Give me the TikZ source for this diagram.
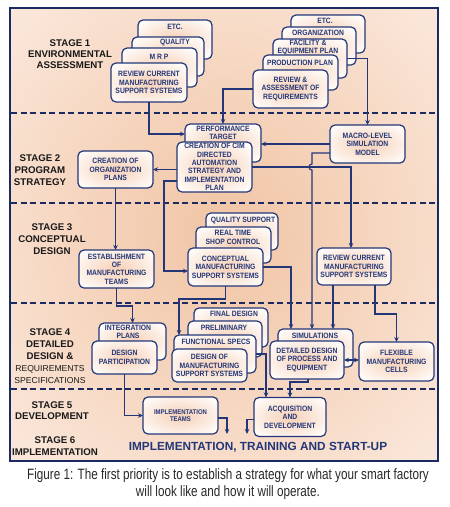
\documentclass[tikz,border=0pt]{standalone}
\usepackage{fontspec}
\setmainfont{Liberation Sans}
\newfontfamily\capfont{Liberation Sans}[FakeStretch=0.78]
\newfontfamily\boxfont{Liberation Sans}[FakeStretch=0.88]
\usetikzlibrary{arrows.meta,calc}
\definecolor{navy}{RGB}{35,55,120}
\definecolor{framec}{RGB}{28,42,98}
\definecolor{bgin}{RGB}{241,196,164}
\definecolor{bgmid}{RGB}{247,218,198}
\definecolor{bgout}{RGB}{253,242,235}
\definecolor{boxin}{RGB}{246,208,182}
\definecolor{boxmid}{RGB}{251,232,219}
\definecolor{labelc}{RGB}{25,25,25}
\definecolor{capc}{RGB}{40,40,40}
\pgfdeclareradialshading{bgshade}{\pgfpoint{0bp}{0bp}}{color(0bp)=(bgin); color(22bp)=(bgmid); color(45bp)=(bgout); color(50bp)=(bgout)}
\pgfdeclareradialshading{boxshade}{\pgfpoint{0bp}{0bp}}{color(0bp)=(boxin); color(18bp)=(boxmid); color(34bp)=(white); color(50bp)=(white)}
\tikzset{
  procbox/.style={draw=navy, line width=1.2pt, rounded corners=5pt, shading=boxshade,
    inner sep=0pt, outer sep=0pt, align=center, text=navy,
    font=\boxfont\bfseries\fontsize{7.7}{8.4}\selectfont},
  btxt/.style={text=navy, font=\boxfont\bfseries\fontsize{7.7}{8.4}\selectfont, align=center, inner sep=0pt},
  stagelbl/.style={text=labelc, font=\bfseries\fontsize{9.7}{12}\selectfont, align=center, inner sep=0pt},
  conn/.style={draw=navy, line width=1.1pt, -{Stealth[length=5pt,width=4.5pt]}},
  plainline/.style={draw=navy, line width=1.1pt},
  stagesep/.style={draw=framec, line width=1.2pt, dash pattern=on 6pt off 3.5pt},
}
\begin{document}
\begin{tikzpicture}[x=1pt,y=-1pt]
\useasboundingbox (0,0) rectangle (450,507);
% frame
\shadedraw[shading=bgshade, draw=framec, line width=1.8pt] (10,8) rectangle (438,461);
\foreach \yy in {113,203,303,389} {\draw[stagesep] (11,\yy) -- (437,\yy);}

% stage labels
\node[stagelbl, font=\bfseries\fontsize{9.7}{11}\selectfont] (st1) at (70,54) {STAGE 1\\ENVIRONMENTAL\\ASSESSMENT};
\node[stagelbl] (st2) at (40,170) {STAGE 2\\PROGRAM\\STRATEGY};
\node[stagelbl] (st3) at (52,239.5) {STAGE 3\\CONCEPTUAL\\DESIGN};
\node[stagelbl] (st4) at (50,356) {STAGE 4\\DETAILED\\DESIGN \&\\{\mdseries\fontsize{8.6}{12}\selectfont REQUIREMENTS}\\{\mdseries\fontsize{8.6}{12}\selectfont SPECIFICATIONS}};
\node[stagelbl, font=\bfseries\fontsize{9.7}{11}\selectfont] (st5) at (52,410.5) {STAGE 5\\DEVELOPMENT};
\node[stagelbl] (st6) at (55,446) {STAGE 6\\IMPLEMENTATION};

% stage 1 left stack
\node[procbox, minimum width=74pt, minimum height=39pt] (s1etc) at (175,39.5) {};
\node[btxt] (s1etc-t) at (175,27) {ETC.};
\node[procbox, minimum width=72pt, minimum height=39pt] (s1qual) at (168,56.5) {};
\node[btxt] (s1qual-t) at (175,43) {QUALITY};
\node[procbox, minimum width=75pt, minimum height=39pt] (s1mrp) at (159.5,67.5) {};
\node[btxt] (s1mrp-t) at (159,57) {M R P};
\node[procbox, minimum width=76pt, minimum height=39pt] (s1rev) at (149,82.5) {REVIEW CURRENT\\MANUFACTURING\\SUPPORT SYSTEMS};

% stage 1 right stack
\node[procbox, minimum width=74pt, minimum height=38pt] (r1etc) at (328,34) {};
\node[btxt] (r1etc-t) at (325,20.5) {ETC.};
\node[procbox, minimum width=74pt, minimum height=38pt] (r1org) at (319,46) {};
\node[btxt] (r1org-t) at (318,33) {ORGANIZATION};
\node[procbox, minimum width=74pt, minimum height=39pt] (r1fac) at (310,58.5) {};
\node[btxt] (r1fac-t) at (308,47.5) {FACILITY \&\\EQUIPMENT PLAN};
\node[procbox, minimum width=75pt, minimum height=35pt] (r1prod) at (300.5,72.5) {};
\node[btxt] (r1prod-t) at (300,63) {PRODUCTION PLAN};
\node[procbox, minimum width=75pt, minimum height=38pt] (r1rev) at (290.5,89) {REVIEW \&\\ASSESSMENT OF\\REQUIREMENTS};

% stage 2
\node[procbox, minimum width=76pt, minimum height=38pt] (perf) at (223,143) {};
\node[btxt] (perf-t) at (223,133) {PERFORMANCE\\TARGET};
\node[procbox, minimum width=75pt, minimum height=50pt] (creation) at (214.5,167) {CREATION OF CIM\\DIRECTED\\AUTOMATION\\STRATEGY AND\\IMPLEMENTATION\\PLAN};
\node[procbox, minimum width=75pt, minimum height=37pt] (org) at (115.5,169.5) {CREATION OF\\ORGANIZATION\\PLANS};
\node[procbox, minimum width=75pt, minimum height=38pt] (macro) at (367.5,144) {MACRO-LEVEL\\SIMULATION\\MODEL};

% stage 3
\node[procbox, minimum width=75pt, minimum height=38pt] (estab) at (116.5,269) {ESTABLISHMENT\\OF\\MANUFACTURING\\TEAMS};
\node[procbox, minimum width=72pt, minimum height=37pt] (qs) at (242,231.5) {};
\node[btxt] (qs-t) at (243,221) {QUALITY SUPPORT};
\node[procbox, minimum width=75pt, minimum height=36pt] (rt) at (233.5,245) {};
\node[btxt] (rt-t) at (233,237.5) {REAL TIME\\SHOP CONTROL};
\node[procbox, minimum width=75pt, minimum height=38pt] (conc) at (225.5,267) {CONCEPTUAL\\MANUFACTURING\\SUPPORT SYSTEMS};
\node[procbox, minimum width=74pt, minimum height=37pt] (rev3) at (354,266.5) {REVIEW CURRENT\\MANUFACTURING\\SUPPORT SYSTEMS};

% stage 4
\node[procbox, minimum width=67pt, minimum height=37pt] (integ) at (132.5,341.5) {};
\node[btxt] (integ-t) at (128,332) {INTEGRATION\\PLANS};
\node[procbox, minimum width=65pt, minimum height=33pt] (dp) at (124.5,357.5) {DESIGN\\PARTICIPATION};
\node[procbox, minimum width=74pt, minimum height=39pt] (fin) at (231,327.5) {};
\node[btxt] (fin-t) at (234,314) {FINAL DESIGN};
\node[procbox, minimum width=74pt, minimum height=36pt] (prel) at (225,339) {};
\node[btxt] (prel-t) at (224,327.5) {PRELIMINARY};
\node[procbox, minimum width=82pt, minimum height=38pt] (func) at (215,354) {};
\node[btxt] (func-t) at (216,342) {FUNCTIONAL SPECS};
\node[procbox, minimum width=75pt, minimum height=33pt] (dms) at (209.5,365.5) {DESIGN OF\\MANUFACTURING\\SUPPORT SYSTEMS};
\node[procbox, minimum width=75pt, minimum height=38pt] (sim) at (315.5,348) {};
\node[btxt] (sim-t) at (315,336) {SIMULATIONS};
\node[procbox, minimum width=74pt, minimum height=38pt] (det) at (307,360) {DETAILED DESIGN\\OF PROCESS AND\\EQUIPMENT};
\node[procbox, minimum width=75pt, minimum height=39pt] (flex) at (396.5,361.5) {FLEXIBLE\\MANUFACTURING\\CELLS};

% stage 5
\node[procbox, minimum width=75pt, minimum height=37pt, font=\boxfont\bfseries\fontsize{6.8}{7.6}\selectfont] (impl) at (180.5,415.5) {IMPLEMENTATION\\TEAMS};
\node[procbox, minimum width=72pt, minimum height=39pt] (acq) at (290,417) {ACQUISITION\\AND\\DEVELOPMENT};

% stage 6 text
\node[text=navy, font=\bfseries\fontsize{11.8}{13}\selectfont, inner sep=0pt] (impltxt) at (258,447) {IMPLEMENTATION, TRAINING AND START-UP};

% lane coordinates
\coordinate (xl2) at (179,0);
\coordinate (xl3) at (333,0);
\coordinate (xl4) at (375,0);
\coordinate (xl5) at (266,0);
\coordinate (end1) at (247,434);
\coordinate (end2) at (227,434);

% connectors
\draw[conn] (s1rev.south) |- ([yshift=9pt]perf.west);
\draw[conn] (r1rev.west) -| (perf.north);
\draw[conn] (r1fac.east) -| (macro.north);
\draw[conn] (macro.west) -- (macro.west -| perf.east);
\draw[conn] (creation.west |- org.east) -- (org.east);
\draw[conn] ([yshift=-14pt]creation.west) -- ++(-13,0) |- ([yshift=-4pt]conc.west);
\draw[conn] (creation.east) -| ([xshift=-3pt]rev3.north);
\draw[conn] ([yshift=-9pt]macro.west) -- ++(-18,0) -- ++(0,11) to[out=180,in=180,looseness=1.7] ++(0,6) -- ([xshift=-3.5pt]sim.north);
\draw[conn] (conc.east) -| ([xshift=-24.5pt]sim.north);
\draw[conn] (rev3.south -| xl3) -- (sim.north -| xl3);
\draw[conn] (rev3.south -| xl4) -- ++(0,29) -| (flex.north);
\draw[conn] (conc.south) -- ++(0,13) -| (func.north -| xl2);
\draw[conn] (func.east) -| (acq.north -| xl5);
\draw[conn] ([xshift=1pt]det.south) -- ++(0,3) -| (acq.north);
\draw[plainline, {Stealth[length=5pt,width=4.5pt]}-{Stealth[length=5pt,width=4.5pt]}] (det.east) -- (det.east -| flex.west);
\draw[conn] ([yshift=-2.5pt]acq.west) -| (end1);
\draw[conn] (dp.south) |- (impl.west);
\draw[conn] ([yshift=-2.5pt]impl.east) -| (end2);
\draw[conn] (estab.south) -- ++(0,18) -| (integ.north);
\draw[conn] (org.south) -- (org.south |- estab.north);

% caption
\node[font=\capfont\fontsize{15}{17}\selectfont, text=capc, align=center, inner sep=0pt] (cap) at (228,484) {Figure 1: The first priority is to establish a strategy for what your smart factory\\will look like and how it will operate.};
\end{tikzpicture}
\end{document}
